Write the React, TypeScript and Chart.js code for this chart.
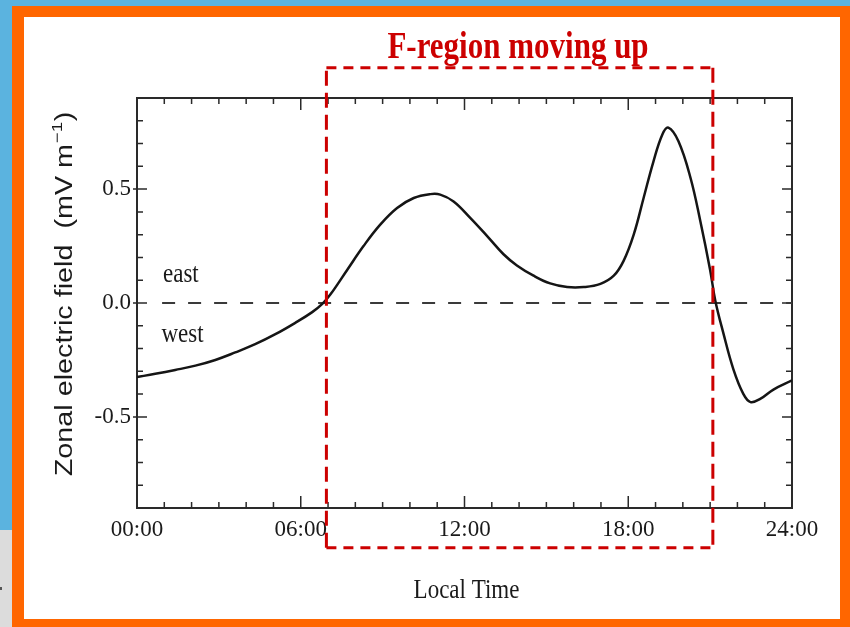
import React, { useEffect, useRef } from 'react';
import { Chart, registerables } from 'chart.js';

Chart.register(...registerables);

// ---- data ----
const HOURS = [
  0, 0.67, 1.4, 2.14, 2.87, 3.6, 4.33, 5.07, 5.8, 6.42, 6.79, 7.09, 7.7, 8.3, 8.92, 9.53,
  10.14, 10.75, 11.11, 11.6, 12.21, 12.83, 13.43, 13.92, 14.53, 15.14, 15.76, 16.37, 16.98,
  17.47, 17.83, 18.2, 18.56, 18.92, 19.25, 19.47, 19.84, 20.28, 20.64, 21.0, 21.19, 21.48,
  21.85, 22.22, 22.48, 22.85, 23.32, 24,
];
const FIELD = [
  -0.325, -0.311, -0.294, -0.275, -0.25, -0.217, -0.181, -0.137, -0.087, -0.04, -0.004, 0.038,
  0.145, 0.25, 0.345, 0.417, 0.461, 0.478, 0.476, 0.446, 0.374, 0.294, 0.214, 0.165, 0.12,
  0.086, 0.07, 0.07, 0.084, 0.12, 0.185, 0.3, 0.46, 0.62, 0.74, 0.77, 0.71, 0.55, 0.36, 0.145,
  0.01, -0.13, -0.29, -0.4, -0.435, -0.42, -0.38, -0.34,
];

const X_TICK_VALUES = [0, 6, 12, 18, 24];
const X_TICK_LABELS = ['00:00', '06:00', '12:00', '18:00', '24:00'];
const Y_TICK_VALUES = [-0.5, 0, 0.5];
const Y_TICK_LABELS = ['-0.5', '0.0', '0.5'];
const X_MIN = 0;
const X_MAX = 24;
const Y_MIN = -0.9;
const Y_MAX = 0.9;

const ZERO_LINE_HOURS = [0.92, 24];
const BOX_HOURS = [6.94, 21.1];
const BOX_FIELD = [-1.075, 1.033];

const TITLE = 'F-region moving up';
const X_TITLE = 'Local Time';
const Y_TITLE = 'Zonal electric field  (mV m';
const Y_TITLE_SUP = '\u22121';
const Y_TITLE_END = ')';
const EAST = 'east';
const WEST = 'west';

const RED = '#CC0000';
const INK = '#1a1a1a';

const decorPlugin = {
  id: 'decor',
  beforeDraw(chart: any) {
    const ctx = chart.ctx;
    const W = chart.width;
    const H = chart.height;
    ctx.save();
    ctx.fillStyle = '#5BB3DF';
    ctx.fillRect(0, 0, W, H);
    ctx.fillStyle = '#DCDCDC';
    ctx.fillRect(0, 530, 12, H - 530);
    ctx.fillStyle = '#555';
    ctx.fillRect(0, 587, 2, 3);
    ctx.fillStyle = '#FF6600';
    ctx.fillRect(12, 6, W - 12, H - 6);
    ctx.fillStyle = '#FFFFFF';
    ctx.fillRect(24, 17, 816, 602);
    ctx.restore();
  },
  beforeDatasetsDraw(chart: any) {
    const { ctx, chartArea: a } = chart;
    const x = chart.scales.x;
    const y = chart.scales.y;
    ctx.save();
    ctx.strokeStyle = '#2a2a2a';
    ctx.lineWidth = 2;
    ctx.strokeRect(a.left, a.top, a.right - a.left, a.bottom - a.top);
    ctx.lineWidth = 1.5;
    ctx.beginPath();
    for (let h = X_MIN + 1; h < X_MAX; h++) {
      const px = x.getPixelForValue(h);
      const len = h % 6 === 0 ? 12 : 6;
      ctx.moveTo(px, a.bottom);
      ctx.lineTo(px, a.bottom - len);
      ctx.moveTo(px, a.top);
      ctx.lineTo(px, a.top + len);
    }
    for (let k = -8; k <= 8; k++) {
      const py = y.getPixelForValue(k / 10);
      const major = k % 5 === 0;
      const len = major ? 10 : 6;
      ctx.moveTo(a.left - (major ? 4 : 0), py);
      ctx.lineTo(a.left + len, py);
      ctx.moveTo(a.right, py);
      ctx.lineTo(a.right - len, py);
    }
    ctx.stroke();
    ctx.restore();
  },
  afterDraw(chart: any) {
    const ctx = chart.ctx;
    const x = chart.scales.x;
    const y = chart.scales.y;
    const yZero = y.getPixelForValue(0);
    ctx.save();
    // title
    ctx.fillStyle = RED;
    ctx.font = 'bold 31px "Liberation Serif"';
    ctx.textAlign = 'center';
    ctx.textBaseline = 'alphabetic';
    ctx.save();
    ctx.translate(518, 58);
    ctx.scale(1, 1.23);
    ctx.fillText(TITLE, 0, 0);
    ctx.restore();

    ctx.fillStyle = INK;
    // x title
    ctx.font = '23px "Liberation Serif"';
    ctx.save();
    ctx.translate(x.getPixelForValue(12) + 2, 598);
    ctx.scale(1, 1.22);
    ctx.fillText(X_TITLE, 0, 0);
    ctx.restore();

    // east / west
    ctx.textAlign = 'left';
    ctx.save();
    ctx.translate(163, yZero - 21.5);
    ctx.scale(1, 1.2);
    ctx.fillText(EAST, 0, 0);
    ctx.restore();
    ctx.save();
    ctx.translate(161.5, yZero + 39);
    ctx.scale(1, 1.2);
    ctx.fillText(WEST, 0, 0);
    ctx.restore();

    // y title
    ctx.save();
    ctx.translate(72, 294);
    ctx.scale(1, 1.25);
    ctx.rotate(-Math.PI / 2);
    ctx.font = '23px "Liberation Sans"';
    const w1 = ctx.measureText(Y_TITLE).width;
    const w3 = ctx.measureText(Y_TITLE_END).width;
    ctx.font = '15px "Liberation Sans"';
    const w2 = ctx.measureText(Y_TITLE_SUP).width;
    const start = -(w1 + w2 + w3 + 1) / 2;
    ctx.font = '23px "Liberation Sans"';
    ctx.fillText(Y_TITLE, start, 0);
    ctx.fillText(Y_TITLE_END, start + w1 + w2 + 1, 0);
    ctx.font = '15px "Liberation Sans"';
    ctx.fillText(Y_TITLE_SUP, start + w1 + 0.5, -10);
    ctx.restore();

    ctx.restore();
  },
};

export default function App() {
  const ref = useRef<HTMLCanvasElement>(null);

  useEffect(() => {
    const canvas = ref.current;
    if (!canvas) return;
    const curve = HOURS.map((h, i) => ({ x: h, y: FIELD[i] }));
    const zero = ZERO_LINE_HOURS.map((h) => ({ x: h, y: 0 }));
    const [bl, br] = BOX_HOURS;
    const [bb, bt] = BOX_FIELD;
    const boxV = [
      { x: bl, y: bb },
      { x: bl, y: bt },
      { x: bl, y: null },
      { x: br, y: bt },
      { x: br, y: bb },
    ];
    const boxH = [
      { x: bl, y: bt },
      { x: br, y: bt },
      { x: br, y: null },
      { x: bl, y: bb },
      { x: br, y: bb },
    ];
    const tickFont = { family: '"Liberation Serif"', size: 23 };

    const chart = new Chart(canvas, {
      type: 'line',
      data: {
        datasets: [
          {
            data: boxV as any,
            borderColor: RED,
            borderWidth: 3,
            borderDash: [15, 7],
            pointRadius: 0,
            tension: 0,
            spanGaps: false,
            clip: false as any,
            order: 0,
          },
          {
            data: boxH as any,
            borderColor: RED,
            borderWidth: 3,
            borderDash: [10, 7],
            pointRadius: 0,
            tension: 0,
            spanGaps: false,
            clip: false as any,
            order: 0,
          },
          {
            data: curve,
            borderColor: '#151515',
            borderWidth: 2.5,
            pointRadius: 0,
            tension: 0.4,
            order: 1,
          },
          {
            data: zero,
            borderColor: '#3a3a3a',
            borderWidth: 2,
            borderDash: [13, 13],
            pointRadius: 0,
            order: 2,
          },
        ],
      },
      options: {
        animation: false,
        responsive: false,
        devicePixelRatio: 1,
        events: [],
        layout: { padding: { left: 0, right: 58, top: 98, bottom: 0 } },
        plugins: {
          legend: { display: false },
          tooltip: { enabled: false },
          title: { display: false },
        },
        scales: {
          x: {
            type: 'linear',
            min: X_MIN,
            max: X_MAX,
            grid: { display: false, drawTicks: false },
            border: { display: false },
            afterBuildTicks: (s: any) => {
              s.ticks = X_TICK_VALUES.map((v) => ({ value: v }));
            },
            afterFit: (s: any) => {
              s.height = 119;
            },
            ticks: {
              autoSkip: false,
              maxRotation: 0,
              padding: 8,
              color: INK,
              font: tickFont,
              callback: (_v: any, i: number) => X_TICK_LABELS[i],
            },
          },
          y: {
            type: 'linear',
            min: Y_MIN,
            max: Y_MAX,
            grid: { display: false, drawTicks: false },
            border: { display: false },
            afterBuildTicks: (s: any) => {
              s.ticks = Y_TICK_VALUES.map((v) => ({ value: v }));
            },
            afterFit: (s: any) => {
              s.width = 137;
            },
            ticks: {
              autoSkip: false,
              padding: 6,
              color: INK,
              font: tickFont,
              callback: (_v: any, i: number) => Y_TICK_LABELS[i],
            },
          },
        },
      } as any,
      plugins: [decorPlugin],
    });
    return () => chart.destroy();
  }, []);

  return (
    <div style={{ position: 'fixed', left: 0, top: 0, width: 850, height: 627, overflow: 'hidden' }}>
      <canvas ref={ref} width={850} height={627} style={{ display: 'block', width: 850, height: 627 }} />
    </div>
  );
}
